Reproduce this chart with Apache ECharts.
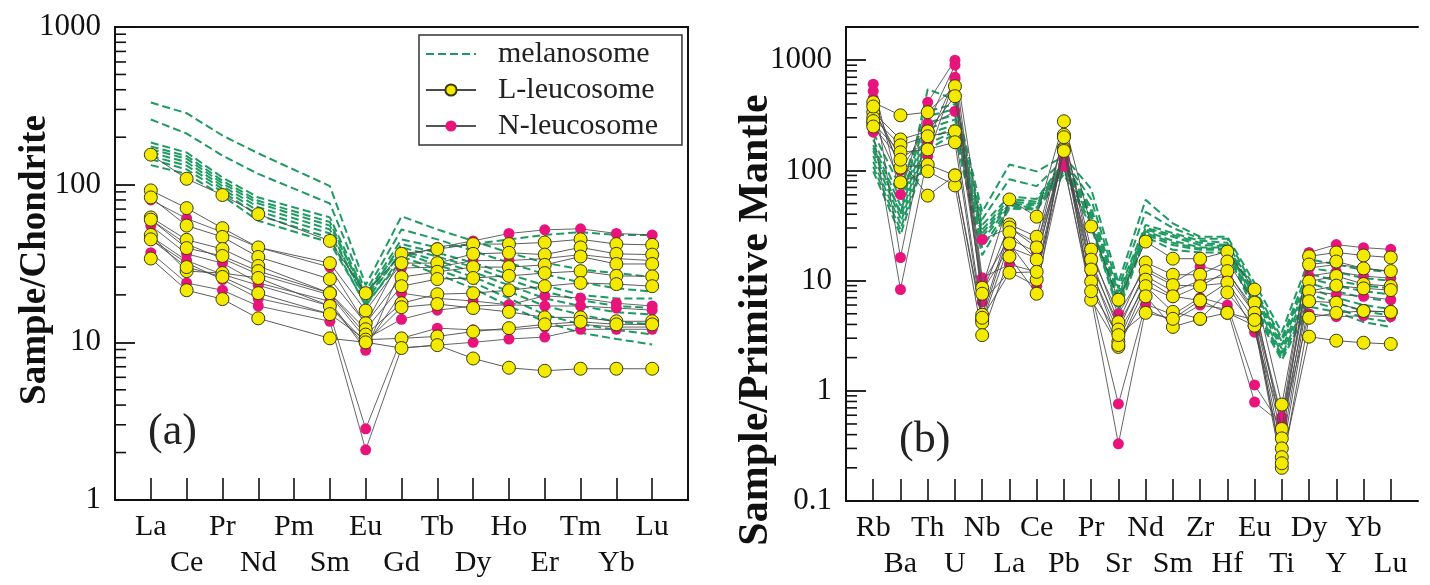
<!DOCTYPE html>
<html><head><meta charset="utf-8">
<script src="https://cdn.jsdelivr.net/npm/echarts@6/dist/echarts.min.js"></script>
<style>html,body{margin:0;padding:0;background:#fff}#c{width:1430px;height:585px}</style>
</head><body><div id="c"></div>
<script>
// ---------- categories ----------
const reeCats = ['La','Ce','Pr','Nd','Pm','Sm','Eu','Gd','Tb','Dy','Ho','Er','Tm','Yb','Lu'];
const spiderCats = ['Rb','Ba','Th','U','Nb','La','Ce','Pb','Pr','Sr','Nd','Sm','Zr','Hf','Eu','Ti','Dy','Y','Yb','Lu'];

// ---------- (a) chondrite-normalised REE ----------
const melanosomeA = [
  [332,284,205,158,null,98,23,63,52,44,37,32,29,27.5,26],
  [259,211,153,117,null,76,21,52,45,38,32,27,24,22,21],
  [185,160,111,83,null,62,20,45,40,42,45,48,50,48,48],
  [175,152,106,79,null,58,19,42,37,32,27,23,20,19,19],
  [168,146,102,76,null,55,20,40,35,30,25,21,18.5,17,16.5],
  [160,139,98,72,null,52,18,38,33,28,23,19,17,15.5,15],
  [152,132,94,68,null,49,19,37,31,26,21,17,15,13.5,13],
  [145,125,90,64,null,46,17,35,29,24,19,15,13,12,11.2],
  [133,117,85,59,null,43,17.5,33,27,22,17,13.5,11.5,10.5,9.7]
];
const lLeucosomeA = [
  [155,109,86,65,null,44,20.5,36.4,39,42,42,43,45,42,41.5],
  [92,71,53,40,null,31.8,15.9,31.8,31.8,36.4,37,36,40,36.4,36],
  [83,55,46.6,34.8,null,25.2,13.2,25.9,28,30,30,31,35,31.4,31.4],
  [62,44.7,39.1,30.5,null,20.5,12.1,22.7,25.2,25.6,26.4,27.5,28.3,26.4,26.2],
  [60,39.6,35.3,28.3,null,20.5,11.2,17.7,20.2,20.5,21.4,22.7,23.8,23.4,22.7],
  [48,28.3,27.5,25.6,null,17,10,16.7,17.5,16.5,15.6,14.4,14.4,13.6,13.6],
  [45,30,26,20.5,null,15.1,10.4,10.6,10.9,11.7,12.3,13,13.5,13,13],
  [34,21.4,18.8,14.2,null,10.6,10,9.2,9.6,7.9,6.9,6.6,6.8,6.8,6.8]
];
const nLeucosomeA = [
  [80,61,50,40,null,30,13,35,40,44,49,51.7,52.5,49,48],
  [55,36.4,31.8,23.8,null,18.2,8.9,29.6,30,33,33,34,36,34,33],
  [45,31.9,25,19,null,15.1,2.83,10.6,12.3,12,12,12.5,13,12.5,12.5],
  [37,23.8,21.4,17,null,13.6,2.08,9.2,9.6,10,10.5,10.8,12.1,12.1,12.1],
  [47,33,27,23,null,17,9.5,20.5,19,18.3,17.3,19.7,19.1,17.7,17],
  [60,42,34,27,null,20,10.5,14,16,17,17.3,17,17,16.5,16]
];

// ---------- (b) primitive-mantle-normalised spider ----------
const melanosomeB = [
  [160,40,545,440,42,113,98,134,68,9.6,54,33,25,25,9.5,3.4,15.6,14,12.5,12],
  [220,70,344,400,36,83,72,125,55,8.5,42,30,24,24,8.5,3.0,13,12,10.5,10],
  [190,55,310,360,32,58,55,120,46,7.8,32,27,23,22,8,2.8,11.5,10,9,8.5],
  [170,48,270,320,29,55,52,115,43,7.2,30,26,22,21,7.5,2.6,10.5,9,8,7.5],
  [150,42,240,290,27,52,50,110,40,6.8,29,25,21,20.5,7,2.4,9.5,8,7,6.5],
  [135,37,215,260,25,50,48,106,38,6.3,28,23,20,20,6.5,2.2,8.5,7,6,5.5],
  [120,33,195,240,23,48,46,102,36,5.9,27,22,19.5,19.5,6,2.1,7.5,6.3,5.3,4.8],
  [108,29,175,225,20,46,45,98,33,5.5,26,21,19,19,5.6,2.0,6.5,5.6,4.6,4.2],
  [98,26,155,215,17,45,44,92,31,5.2,25,19,18,18,5.2,1.9,5.8,5.2,4.2,3.8]
];
const lLeucosomeB = [
  [415,316,337,580,8.6,54.5,38,279,31,6.7,22.6,15.8,15.8,18.3,8.3,0.75,16.6,18,16.9,16.2],
  [337,191,226,471,7.6,32.3,25,204,19.1,4.2,14.6,11.3,11.3,14.9,6.3,0.45,14,14.9,12.9,12.2],
  [300,169,204,226,4.9,30.3,20,210,15.5,3.6,12.2,9.1,8.9,12.2,5.1,0.37,9.8,11,9.3,8.9],
  [267,146,155,180,4.4,27.4,15.5,160,12.6,2.8,10.2,7.2,6.6,9.6,4.4,0.3,8,9,8.5,8.2],
  [380,106,113,90,4.15,21.7,10.2,155,9.8,2.5,8.9,5.2,4.5,7.8,3.9,0.25,6.5,6.3,5.3,5.2],
  [280,78,98,73,3.2,16.5,7.6,200,6.7,2.6,7.2,3.8,4.5,5.1,3.9,0.2,4.6,5.1,5.3,5.2],
  [250,125,59,90,4.6,11.8,12,150,8,3.2,5.1,4.5,6.6,5.1,4.4,0.22,3.1,2.85,2.73,2.66]
];
const nLeucosomeB = [
  [605,60.5,415,1000,23.6,30,22,126,17,5,13,9.5,13.4,12,5.5,0.58,18,21.2,19.9,19.2],
  [523,16.2,267,900,10.6,14,12,109,7.9,0.76,6.1,4.9,7,6,1.13,0.47,8,7.5,7.2,6.7],
  [222,8.3,134,672,6.4,12,8.9,115,7,0.33,5.5,4.3,6,5.5,0.79,0.5,5,4.7,4.8,4.7],
  [450,100,250,344,8,20,16,140,12,3.4,9,7,9,9.5,3.4,0.52,11,12,11,10.5],
  [350,130,180,700,9.5,24,18,160,14,4,11,8,10,11,5,0.55,13,14,13,12]
];

// ---------- axis ticks / texts ----------
const yMinorA = [2,3,4,5,6,7,8,9,20,30,40,50,60,70,80,90,200,300,400,500,600,700,800,900];
const yMinorB = [0.2,0.3,0.4,0.5,0.6,0.7,0.8,0.9,2,3,4,5,6,7,8,9,20,30,40,50,60,70,80,90,200,300,400,500,600,700,800,900];
const yNameA = 'Sample/Chondrite';
const yNameB = 'Sample/Primitive Mantle';
const panelA = '(a)';
const panelB = '(b)';

// ---------- build ----------
const SERIF = 'Liberation Serif, Times New Roman, serif';
const GREEN = '#1e9a62', YELLOW = '#f3ea00', MAGENTA = '#e8147c';

function toPts(row){ return row.map((v,i)=> v==null ? null : [i,v]).filter(Boolean); }

const series = [];
function addGroup(rows, kind, xi, yi){
  rows.forEach(r=>{
    if (kind==='mel') series.push({type:'line', name:'melanosome', xAxisIndex:xi, yAxisIndex:yi, data:toPts(r),
      symbol:'none', z:2, lineStyle:{color:GREEN, width:2, type:[8,4]}, itemStyle:{color:GREEN}, silent:true});
    else if (kind==='L') series.push({type:'line', name:'L-leucosome', xAxisIndex:xi, yAxisIndex:yi, data:toPts(r),
      symbol:'circle', symbolSize:13, z:4, lineStyle:{color:'#4a4a4a', width:0.9},
      itemStyle:{color:YELLOW, borderColor:'#3a3a10', borderWidth:1}, silent:true});
    else series.push({type:'line', name:'N-leucosome', xAxisIndex:xi, yAxisIndex:yi, data:toPts(r),
      symbol:'circle', symbolSize:11, z:3, lineStyle:{color:'#555', width:0.9},
      itemStyle:{color:MAGENTA, borderWidth:0}, silent:true});
  });
}
addGroup(melanosomeA,'mel',0,0); addGroup(nLeucosomeA,'N',0,0); addGroup(lLeucosomeA,'L',0,0);
addGroup(melanosomeB,'mel',1,1); addGroup(nLeucosomeB,'N',1,1); addGroup(lLeucosomeB,'L',1,1);

function minorTicks(vals, xi, yi, xMin, len){
  return {type:'custom', xAxisIndex:xi, yAxisIndex:yi, silent:true, z:10, clip:false,
    data: vals.map(v=>[xMin,v]),
    renderItem:(p,api)=>{ const c=api.coord([api.value(0),api.value(1)]);
      return {type:'line', shape:{x1:c[0],y1:c[1],x2:c[0]+len,y2:c[1]}, style:{stroke:'#111',lineWidth:1.6}}; }};
}
series.push(minorTicks(yMinorA,0,0,-1,11));
series.push(minorTicks(yMinorB,1,1,-1,11));

function logLabel(v){
  const l=Math.log10(v), e=Math.round(l);
  if (Math.abs(l-e)>1e-6) return '';
  return e<0 ? '0.1' : String(Math.pow(10,e));
}
const labelFont = {fontFamily:SERIF, fontSize:30, color:'#111', showMinLabel:true, showMaxLabel:true, hideOverlap:false};
// main axis: line, ticks and first label row (even indices)
function xAxisMain(grid, cats, max){
  const idx = cats.map((c,i)=>i);
  return {type:'value', gridIndex:grid, min:-1, max:max, position:'bottom',
    axisLine:{show:true, onZero:false, lineStyle:{color:'#111', width:2}},
    axisTick:{show:true, inside:true, length:22, customValues:idx, lineStyle:{color:'#111', width:1.6}},
    axisLabel:Object.assign({customValues:idx.filter(i=>i%2===0), formatter:v=>cats[Math.round(v)], margin:12}, labelFont),
    splitLine:{show:false}};
}
// helper axis: second label row (odd indices)
function xAxisRow2(grid, cats, max){
  const idx = cats.map((c,i)=>i);
  return {type:'value', gridIndex:grid, min:-1, max:max, position:'bottom',
    axisLine:{show:false, onZero:false}, axisTick:{show:false},
    axisLabel:Object.assign({customValues:idx.filter(i=>i%2===1), formatter:v=>cats[Math.round(v)], margin:48}, labelFont),
    splitLine:{show:false}};
}
function yAxisCfg(grid, min, max){
  return {type:'log', logBase:10, gridIndex:grid, min:min, max:max,
    axisLine:{show:true, onZero:false, lineStyle:{color:'#111', width:2}},
    axisTick:{show:true, inside:true, length:20, lineStyle:{color:'#111', width:1.8}},
    axisLabel:{formatter:logLabel, fontFamily:SERIF, fontSize:31, color:'#111', margin:14, showMinLabel:true, hideOverlap:false},
    splitLine:{show:false}, minorTick:{show:false}};
}

const option = {
  animation:false, backgroundColor:'#fff',
  grid:[
    {left:115, top:27, width:573, height:473, show:true, borderColor:'#111', borderWidth:2, backgroundColor:'transparent'},
    {left:846, top:27, width:572, height:474}
  ],
  xAxis:[ xAxisMain(0, reeCats, 15), xAxisMain(1, spiderCats, 20),
    {type:'value', gridIndex:1, position:'top', min:-1, max:20, axisLine:{show:true, lineStyle:{color:'#111',width:2}},
     axisTick:{show:false}, axisLabel:{show:false}, splitLine:{show:false}},
    xAxisRow2(0, reeCats, 15), xAxisRow2(1, spiderCats, 20) ],
  yAxis:[ yAxisCfg(0,1,1000), yAxisCfg(1,0.1,2000) ],
  legend:{ left:419, top:35, orient:'vertical', itemWidth:50, itemHeight:14, itemGap:6,
    padding:[4,24,4,6], borderColor:'#333', borderWidth:1.5, backgroundColor:'#fff',
    textStyle:{fontFamily:SERIF, fontSize:30, color:'#222', padding:[0,0,0,17]},
    data:[
      {name:'melanosome', itemStyle:{color:'rgba(0,0,0,0)', borderColor:'rgba(0,0,0,0)', borderWidth:0}},
      'L-leucosome','N-leucosome'] },
  graphic:[
    {type:'text', x:35, y:260, rotation:Math.PI/2, style:{text:yNameA, font:'bold 37px '+SERIF, fill:'#111', textAlign:'center', textVerticalAlign:'middle'}},
    {type:'text', x:756, y:320, rotation:Math.PI/2, style:{text:yNameB, font:'bold 42px '+SERIF, fill:'#111', textAlign:'center', textVerticalAlign:'middle'}},
    {type:'text', x:148, y:432, style:{text:panelA, font:'44px '+SERIF, fill:'#222', textAlign:'left', textVerticalAlign:'middle'}},
    {type:'text', x:899, y:440, style:{text:panelB, font:'44px '+SERIF, fill:'#222', textAlign:'left', textVerticalAlign:'middle'}}
  ],
  series:series
};
const chart = echarts.init(document.getElementById('c'), null, {renderer:'canvas'});
chart.setOption(option);
</script>
</body></html>
